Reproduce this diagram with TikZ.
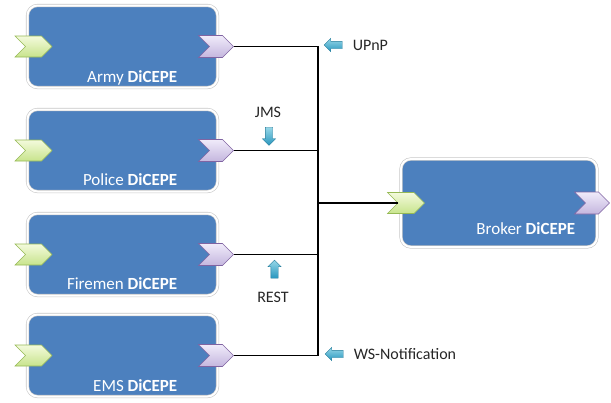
\documentclass[tikz,border=0pt]{standalone}
\usepackage{fontspec}
\setmainfont{Carlito}
\usetikzlibrary{shapes.symbols,shapes.arrows,shadows}
\definecolor{boxblue}{RGB}{76,128,190}
\definecolor{ingreenA}{RGB}{243,250,220}
\definecolor{ingreenB}{RGB}{200,228,140}
\definecolor{ingreenD}{RGB}{150,185,85}
\definecolor{outpurpA}{RGB}{240,235,250}
\definecolor{outpurpB}{RGB}{196,182,222}
\definecolor{outpurpD}{RGB}{128,100,162}
\definecolor{arrcyanA}{RGB}{150,215,232}
\definecolor{arrcyanB}{RGB}{40,150,190}

\begin{document}
\begin{tikzpicture}[x=1pt,y=-1pt,line width=1.5pt,
	main node/.style={rounded corners=10pt,fill=boxblue,draw=black!22,double=white,double distance=2pt,line width=0.6pt,minimum width=190pt,minimum height=82pt,drop shadow={opacity=0.2,shadow xshift=1pt,shadow yshift=-1pt}},
	box text/.style={anchor=base east,text=white,font=\fontsize{17}{19}\selectfont,inner sep=0pt},
	in node/.style={signal,signal to=east,signal from=west,minimum width=37pt,minimum height=21pt,inner sep=0pt,top color=ingreenA,bottom color=ingreenB,draw=ingreenD,line width=0.6pt},
	out node/.style={signal,signal to=east,signal from=west,minimum width=35pt,minimum height=22pt,inner sep=0pt,top color=outpurpA,bottom color=outpurpB,draw=outpurpD,line width=0.6pt},
	proto arrow/.style={single arrow,single arrow head extend=3pt,minimum height=18pt,inner sep=3.5pt,top color=arrcyanA,bottom color=arrcyanB,draw=arrcyanB!80!black,line width=0.3pt},
	proto text/.style={font=\fontsize{16}{18}\selectfont,text=black!85,inner sep=0pt}]
	\useasboundingbox (0,0) rectangle (611,402);
	% CEP engines
	\node[main node] (1) at (122.5,46.5) {};
	\node[main node] (2) at (122.5,150.5) {};
	\node[main node] (3) at (122.5,254.5) {};
	\node[main node] (4) at (122.5,355.5) {};
	\node[main node,minimum width=196pt,minimum height=88pt] (5) at (499,203) {};
	\node[box text] (1t) at (178,82) {Army \textbf{DiCEPE}};
	\node[box text] (2t) at (178,185) {Police \textbf{DiCEPE}};
	\node[box text] (3t) at (178,289) {Firemen \textbf{DiCEPE}};
	\node[box text] (4t) at (178,391) {EMS \textbf{DiCEPE}};
	\node[box text] (5t) at (576,234) {Broker \textbf{DiCEPE}};
	% ports
	\foreach \n/\y in {1/46.5,2/150.5,3/254.5,4/355.5}{
		\node[in node] (\n i) at (33.5,\y) {};
		\node[out node] (\n o) at (216,\y) {};
	}
	\node[in node] (5i) at (406,203) {};
	\node[out node] (5o) at (592,203) {};
	% bus
	\coordinate (bus) at (318,203);
	\draw (1o.east) -| (bus);
	\draw (2o.east) -| (bus);
	\draw (3o.east) -| (bus);
	\draw (4o.east) -| (bus);
	\draw (bus) -- (5i.west);
	% protocols
	\node[proto arrow,shape border rotate=180] (6) at (335,45) {};
	\node[proto text,anchor=west] (6t) at (352,45) {UPnP};
	\node[proto arrow,shape border rotate=270] (7) at (269,134.5) {};
	\node[proto text] (7t) at (268,112) {JMS};
	\node[proto arrow,shape border rotate=90] (8) at (274.5,271) {};
	\node[proto text] (8t) at (273,297) {REST};
	\node[proto arrow,shape border rotate=180] (9) at (336,354) {};
	\node[proto text,anchor=west] (9t) at (353,354) {WS-Notification};
\end{tikzpicture}
\end{document}
